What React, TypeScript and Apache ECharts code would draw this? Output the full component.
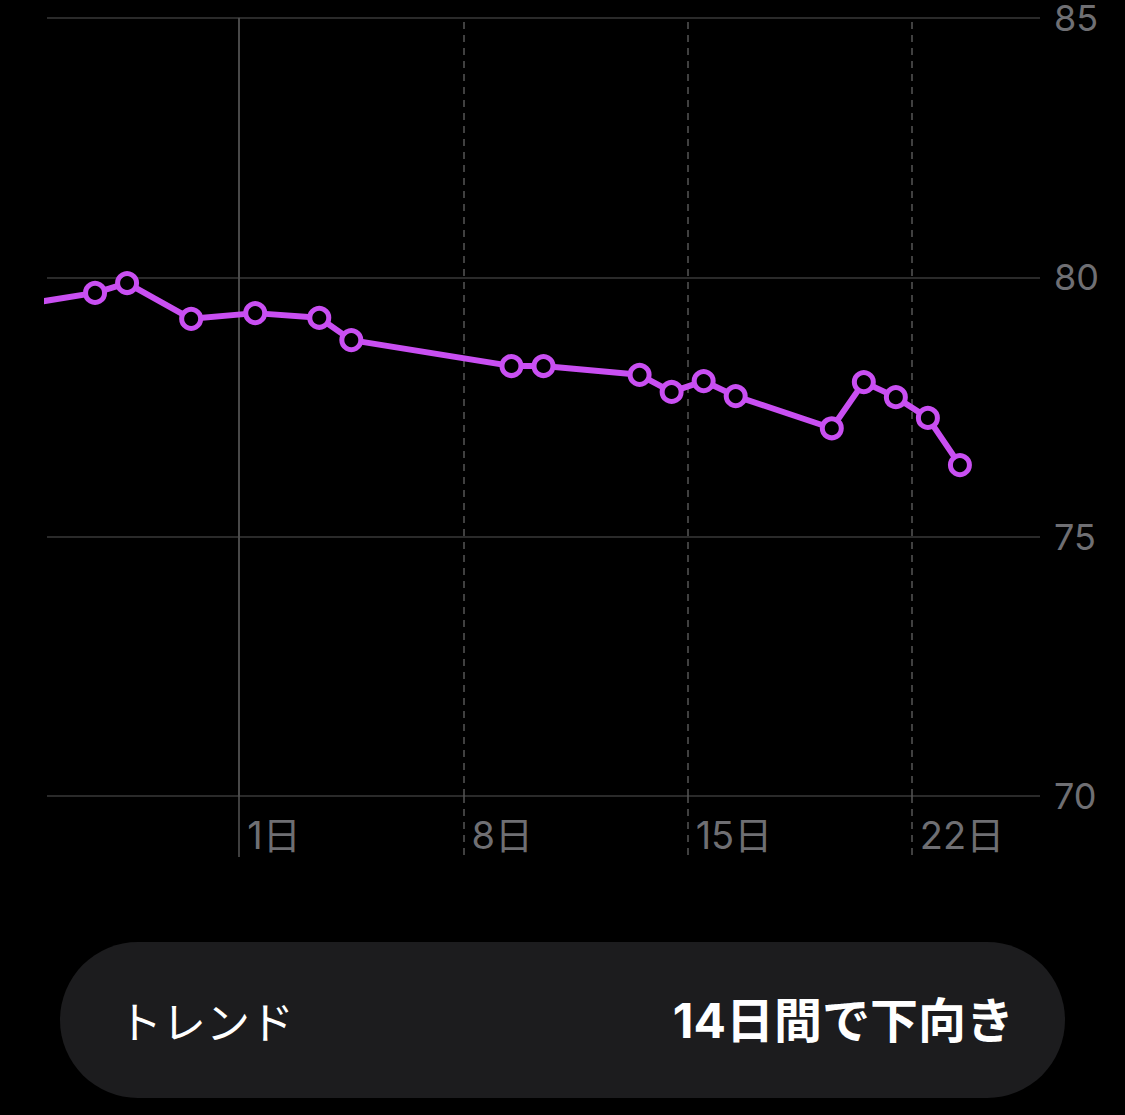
import React, { useEffect, useRef } from "react";
import * as echarts from "echarts";

// Days counted from the start of the 1st (0 = 1日 00:00); readings are at midday.
const dayOffsets = [-6.5, -4.5, -3.5, -1.5, 0.5, 2.5, 3.5, 8.5, 9.5, 12.5, 13.5, 14.5, 15.5, 18.5, 19.5, 20.5, 21.5, 22.5];
const weights = [79.5, 79.7, 79.89, 79.2, 79.31, 79.22, 78.79, 78.29, 78.29, 78.12, 77.79, 78.0, 77.71, 77.09, 77.98, 77.69, 77.29, 76.38];
const weekStarts = [0, 7, 14, 21];
const weekLabels = ["1日", "8日", "15日", "22日"];
const yTicks = [70, 75, 80, 85];
const trendTitle = "トレンド";
const trendValue = "14日間で下向き";

const PURPLE = "#c94ff2";
const GRID = "#383838";
const LABEL = "#6f6f73";
const FONT = "Inter, 'Noto Sans CJK JP', sans-serif";

export default function App() {
  const ref = useRef<HTMLDivElement>(null);
  useEffect(() => {
    document.body.style.margin = "0";
    document.body.style.background = "#000";
    const chart = echarts.init(ref.current!, null, { renderer: "svg" });
    const labelMap: Record<number, string> = {};
    weekStarts.forEach((d, i) => (labelMap[d] = weekLabels[i]));
    chart.setOption({
      animation: false,
      backgroundColor: "#000",
      grid: { left: 47, right: 85, top: 18, bottom: 319, containLabel: false },
      xAxis: [
        {
          type: "value",
          min: -6,
          max: 25,
          axisLine: { show: false },
          splitLine: { show: false },
          axisTick: {
            show: true,
            inside: false,
            length: 61,
            customValues: weekStarts.slice(1),
            lineStyle: { color: "#555", width: 1.5, type: [7, 6] },
          },
          axisLabel: {
            show: true,
            customValues: weekStarts,
            formatter: (v: number) => labelMap[v] ?? "",
            align: "left",
            margin: 20,
            padding: [0, 0, 0, 8],
            color: LABEL,
            fontSize: 38,
            fontFamily: FONT,
          },
        },
        {
          type: "value",
          min: -6,
          max: 25,
          position: "bottom",
          axisLine: { show: false },
          splitLine: { show: false },
          axisLabel: { show: false },
          axisTick: {
            show: true,
            length: 61,
            customValues: [weekStarts[0]],
            lineStyle: { color: "#555", width: 1.5 },
          },
        },
      ],
      yAxis: [
        {
          type: "value",
          position: "right",
          min: 70,
          max: 85,
          interval: 5,
          axisLine: { show: false },
          axisTick: { show: false },
          splitLine: { show: true, lineStyle: { color: GRID, width: 1.5 } },
          axisLabel: {
            margin: 14,
            color: LABEL,
            fontSize: 36,
            lineHeight: 34,
            fontFamily: FONT,
            customValues: yTicks,
          },
        },
        {
          type: "value",
          position: "left",
          min: 70,
          max: 85,
          interval: 5,
          axisLine: { show: true, lineStyle: { color: GRID, width: 1.5 } },
          axisTick: { show: false },
          splitLine: { show: false },
          axisLabel: { show: false },
        },
      ],
      series: [
        {
          type: "line",
          xAxisIndex: 0,
          yAxisIndex: 0,
          data: dayOffsets.map((d, i) => [d, weights[i]]),
          clip: true,
          symbol: "circle",
          symbolSize: 19,
          showAllSymbol: true,
          lineStyle: { color: PURPLE, width: 6 },
          itemStyle: { color: "#000", borderColor: PURPLE, borderWidth: 5 },
          markLine: {
            silent: true,
            symbol: "none",
            label: { show: false },
            data: weekStarts.map((d, i) => ({
              xAxis: d,
              lineStyle: {
                color: "#555",
                width: 1.5,
                type: i === 0 ? "solid" : [7, 6],
              },
            })),
          },
          z: 5,
        },
      ],
      graphic: [
        {
          type: "rect",
          shape: { x: 60, y: 942, width: 1005, height: 156, r: 78 },
          style: { fill: "#1c1c1e" },
        },
        {
          type: "text",
          x: 118,
          y: 1020,
          style: {
            text: trendTitle,
            fill: "#fff",
            fontSize: 44,
            fontFamily: "'Noto Sans CJK JP', sans-serif",
            verticalAlign: "middle",
            align: "left",
          },
        },
        {
          type: "text",
          x: 1014,
          y: 1020,
          style: {
            text: trendValue,
            fill: "#fff",
            fontSize: 48,
            fontWeight: "bold",
            fontFamily: "Inter, 'Noto Sans CJK JP', sans-serif",
            verticalAlign: "middle",
            align: "right",
          },
        },
      ],
    });
    return () => chart.dispose();
  }, []);
  return <div ref={ref} style={{ width: 1125, height: 1115, background: "#000" }} />;
}
